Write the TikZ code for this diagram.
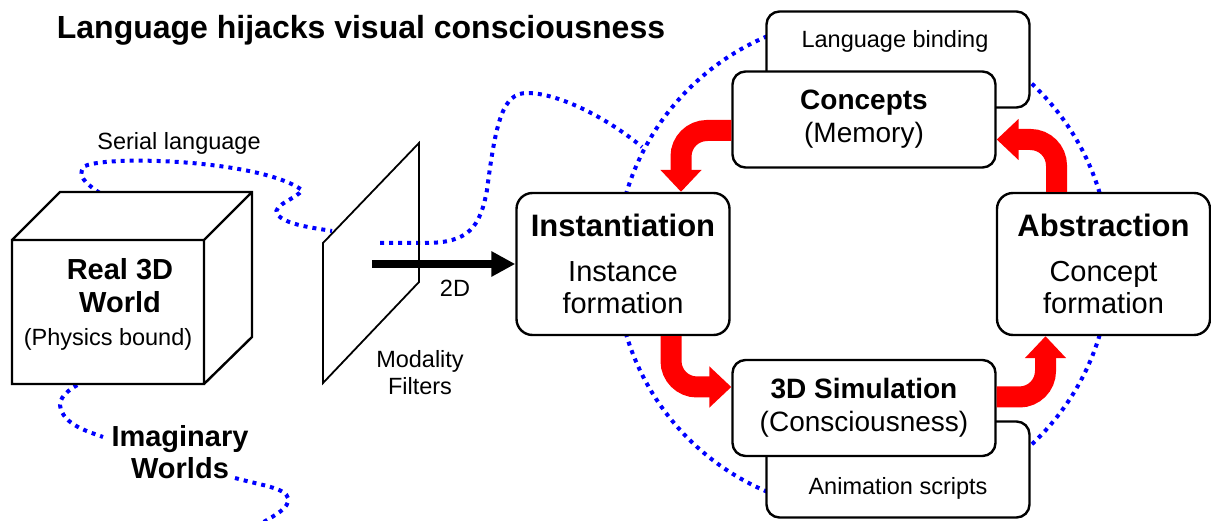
\documentclass[tikz,border=0pt]{standalone}
\usepackage{fontspec}
\setmainfont{Liberation Sans}
\usepackage{tikz}
\usetikzlibrary{arrows.meta, positioning}
\tikzset{
	x=1pt, y=-1pt, % one unit is one pixel of the sketch, y runs downwards
	stage/.style={draw, line width=2.4pt, rounded corners=16pt, fill=white, align=center, inner sep=0pt, minimum width=213pt, minimum height=142pt, font=\fontsize{29}{32}\selectfont}, % the two big process boxes
	store/.style={stage, rounded corners=13pt, minimum width=263pt, minimum height=96pt, font=\fontsize{28}{33}\selectfont}, % the four flat boxes
	cycle arrow/.style={red, line width=21pt, rounded corners=26pt, -{Triangle[length=22pt,width=40pt]}}, % thick red bent arrows
	bluedots/.style={blue, line width=4pt, dash pattern=on 4pt off 5pt}, % dotted language threads
	small/.style={font=\fontsize{23.5}{27}\selectfont, align=center}, % plain labels
	heading/.style={font=\bfseries\fontsize{29}{32}\selectfont, align=center}, % bold labels
}

\begin{document}
\begin{tikzpicture}
	\useasboundingbox (0,0) rectangle (1211,521);

	\draw[bluedots] (863,264) circle[radius=247];
	\draw[bluedots] (130,212) .. controls (105,195) and (70,180) .. (85,166) .. controls (110,155) and (260,160) .. (302,190) .. controls (298,198) and (272,205) .. (277,214) .. controls (285,225) and (315,228) .. (332,231);
	\draw[bluedots] (380,243) -- (425,243) .. controls (468,243) and (480,228) .. (487,190) .. controls (496,120) and (503,93) .. (527,93) .. controls (560,93) and (610,120) .. (642,147);
	\draw[bluedots] (228,263) .. controls (238,272) and (244,280) .. (242,290) .. controls (240,298) and (233,305) .. (228,311);
	\draw[bluedots] (135,360) .. controls (110,372) and (60,385) .. (60,405) .. controls (62,425) and (90,432) .. (103,437);
	\draw[bluedots] (235,478) .. controls (260,485) and (286,488) .. (288,498) .. controls (290,508) and (275,515) .. (262,523);

	\node[font=\bfseries\fontsize{32}{38}\selectfont] (title) at (361,30) {Language hijacks visual consciousness};

	\draw[line width=2.4pt, fill=white] (12,240) rectangle (204,384)
		(12,240) -- ++(48,-48) -- ++(192,0) -- ++(0,145) -- (204,384)
		(204,240) -- ++(48,-48);
	\node[small] (world) at (108,304) {\textbf{\fontsize{29}{33}\selectfont\hspace*{24pt}Real 3D}\\[6pt]\textbf{\fontsize{29}{33}\selectfont\hspace*{24pt}World}\\[6pt](Physics bound)};
	\node[small] (serial) at (179,143) {Serial language};
	\node[heading] (imag) at (180,452) {Imaginary\\Worlds};

	\draw[line width=1.8pt] (323,243) -- (419,143) -- (419,282) -- (323,383) -- cycle;
	\node[small] (filters) at (420,373) {Modality\\Filters};

	\node[store] (bind) at (898,59.5) {};
	\node[small] (bindtxt) at ([xshift=-3pt, yshift=-31pt]bind.north) {Language binding};
	\node[store] (anim) at (898,469.5) {};
	\node[small] (animtxt) at ([yshift=30pt]anim.south) {Animation scripts};

	\node[store] (conc) at (864,119.5) {\textbf{Concepts}\\(Memory)};
	\node[store] (sim) at (864,408) {\textbf{3D Simulation}\\(Consciousness)};
	\node[stage] (inst) at (623,264) {\textbf{\fontsize{31}{34}\selectfont Instantiation}\\[13pt]Instance\\formation};
	\node[stage] (abs) at (1103.5,264) {\textbf{\fontsize{31}{34}\selectfont Abstraction}\\[13pt]Concept\\formation};

	\draw[cycle arrow] ([yshift=-11pt]conc.west) -| ([xshift=58pt]inst.north);
	\draw[cycle arrow] ([xshift=48pt]inst.south) |- ([yshift=21pt]sim.west);
	\draw[cycle arrow] ([yshift=11pt]sim.east) -| ([xshift=-58pt]abs.south);
	\draw[cycle arrow] ([xshift=-47pt]abs.north) |- ([yshift=-20pt]conc.east);

	\coordinate (beam) at (372,264);
	\draw[line width=8pt, -{Triangle[length=24pt,width=24pt]}] (beam) -- (inst.west);
	\node[small] (twod) at (455,288) {2D};
\end{tikzpicture}
\end{document}
